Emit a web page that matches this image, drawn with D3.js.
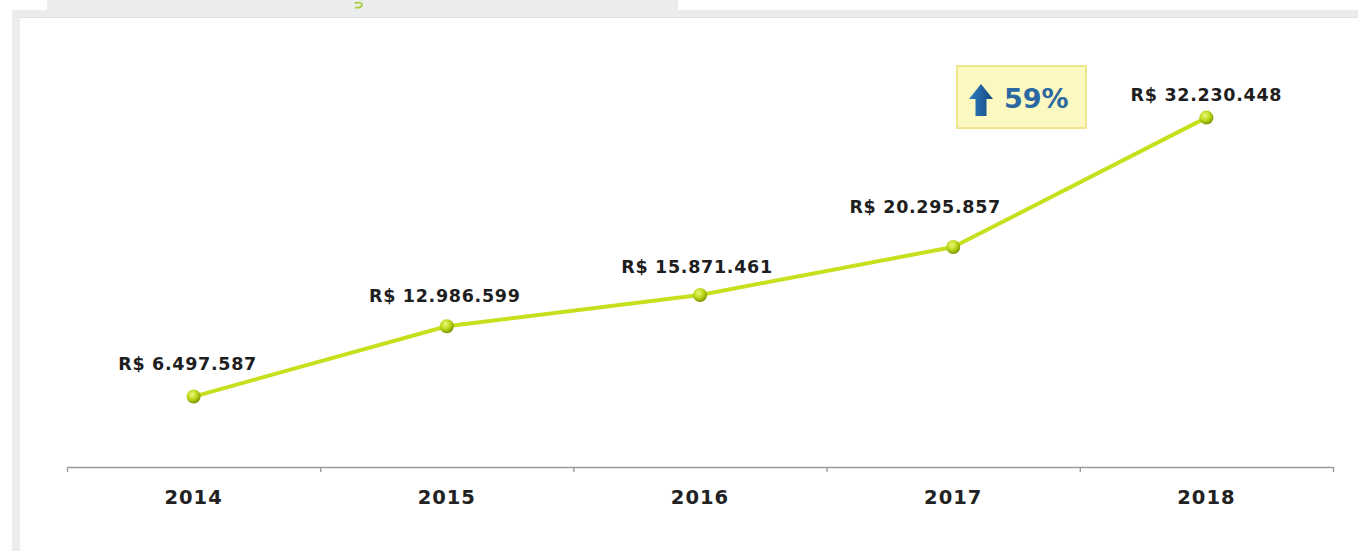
<!DOCTYPE html>
<html>
<head>
<meta charset="utf-8">
<script src="https://cdn.jsdelivr.net/npm/d3@7"></script>
<style>
  body { margin: 0; background: #fff; }
  svg { display: block; }
</style>
</head>
<body>
<div id="main"></div>
<script>
var years = ["2014", "2015", "2016", "2017", "2018"];
var values = [6497587, 12986599, 15871461, 20295857, 32230448];
var growthLabel = "59%";

// label nudges so the text sits like the original
var labelDx = [-6, -2, -3, -28, 0];
var labelDy = [-27, -24, -22, -34, -17];

var width = 1358,
    height = 551;

var svg = d3.select("#main").append("svg")
    .attr("width", width)
    .attr("height", height);

// page frame / tab
svg.append("rect").attr("x", 47).attr("y", 0).attr("width", 631).attr("height", 17).attr("fill", "#ebecee");
svg.append("rect").attr("x", 12).attr("y", 10).attr("width", width - 12).attr("height", 7).attr("fill", "#ebecee");
svg.append("rect").attr("x", 12).attr("y", 10).attr("width", 8).attr("height", height - 10).attr("fill", "#ebecee");
svg.append("line").attr("x1", 20).attr("x2", width).attr("y1", 17.5).attr("y2", 17.5)
    .attr("stroke", "#e0e1e3").attr("stroke-width", 1);
svg.append("path").attr("d", "M355,3 Q362,1.5 362,5 Q361,8.5 355,7.5")
    .attr("fill", "none").attr("stroke", "#a9cf3f").attr("stroke-width", 1.8);

var x = d3.scaleBand()
    .domain(years)
    .range([67, 1333]);

var y = d3.scaleLinear()
    .domain([0, 35000000])
    .range([467, 467 - 35 * 10.84]);

// axis line with ticks at band edges
var edge = d3.scaleLinear().domain([0, years.length]).range(x.range());
var edgeAxis = svg.append("g")
    .attr("transform", "translate(0," + y(0) + ")")
    .call(d3.axisBottom(edge).tickValues(d3.range(years.length + 1)).tickFormat("").tickSize(5).tickSizeOuter(0));
edgeAxis.selectAll("path, line").attr("stroke", "#9c9c9c").attr("stroke-width", 1.4);

var yearAxis = svg.append("g")
    .attr("transform", "translate(0," + y(0) + ")")
    .call(d3.axisBottom(x).tickSize(0).tickPadding(23));
yearAxis.select(".domain").remove();
yearAxis.selectAll("text")
    .attr("font-family", "DejaVu Sans, Verdana, sans-serif")
    .attr("font-weight", "bold")
    .attr("font-size", "19.5px")
    .attr("letter-spacing", "1px")
    .attr("fill", "#222");

// gradient for the points
var defs = svg.append("defs");
var grad = defs.append("radialGradient").attr("id", "ball")
    .attr("cx", "40%").attr("cy", "35%").attr("r", "65%");
grad.append("stop").attr("offset", "0%").attr("stop-color", "#eef77a");
grad.append("stop").attr("offset", "55%").attr("stop-color", "#bcd81a");
grad.append("stop").attr("offset", "100%").attr("stop-color", "#7f9400");

var line = d3.line()
    .x(function(d, i) { return x(years[i]) + x.bandwidth() / 2; })
    .y(function(d) { return y(d); });

svg.append("path")
    .datum(values)
    .attr("d", line)
    .attr("fill", "none")
    .attr("stroke", "#c6e01e")
    .attr("stroke-width", 4)
    .attr("stroke-linejoin", "round");

svg.selectAll(".pt")
    .data(values)
    .enter().append("circle")
    .attr("class", "pt")
    .attr("cx", function(d, i) { return x(years[i]) + x.bandwidth() / 2; })
    .attr("cy", function(d) { return y(d); })
    .attr("r", 7)
    .attr("fill", "url(#ball)");

var fmt = d3.formatLocale({ decimal: ",", thousands: ".", grouping: [3], currency: ["R$ ", ""] }).format("$,.0f");

svg.selectAll(".val")
    .data(values)
    .enter().append("text")
    .attr("class", "val")
    .attr("x", function(d, i) { return x(years[i]) + x.bandwidth() / 2 + labelDx[i]; })
    .attr("y", function(d, i) { return y(d) + labelDy[i]; })
    .attr("text-anchor", "middle")
    .attr("font-family", "DejaVu Sans, Verdana, sans-serif")
    .attr("font-weight", "bold")
    .attr("font-size", "17.5px")
    .attr("letter-spacing", "0.7px")
    .attr("fill", "#1e1e1e")
    .text(function(d) { return fmt(d); });

// growth badge
var badge = svg.append("g").attr("transform", "translate(957,66)");
badge.append("rect")
    .attr("x", 0).attr("y", 0).attr("width", 129).attr("height", 62)
    .attr("fill", "#fcf8c2").attr("stroke", "#f1e58c").attr("stroke-width", 2);
var ag = defs.append("linearGradient").attr("id", "arrowg").attr("x1", "0").attr("x2", "1");
ag.append("stop").attr("offset", "0%").attr("stop-color", "#2f7cc0");
ag.append("stop").attr("offset", "100%").attr("stop-color", "#154a80");
badge.append("path")
    .attr("d", "M24,18 L36,33 L29.5,33 L29.5,50 L18.5,50 L18.5,33 L12,33 Z")
    .attr("fill", "url(#arrowg)");
badge.append("text")
    .attr("x", 47).attr("y", 42)
    .attr("font-family", "DejaVu Sans, Verdana, sans-serif")
    .attr("font-weight", "bold")
    .attr("font-size", "27px")
    .attr("fill", "#2b67a0")
    .text(growthLabel);
</script>
</body>
</html>
